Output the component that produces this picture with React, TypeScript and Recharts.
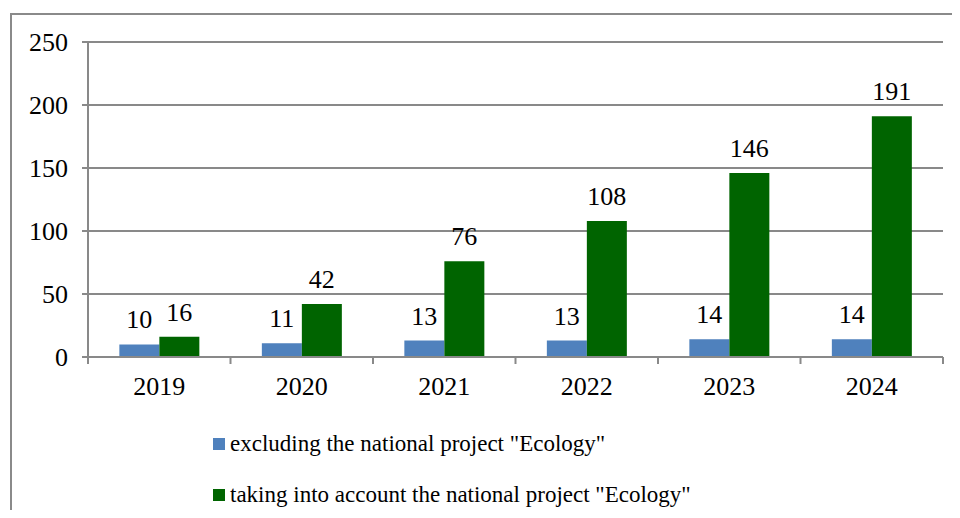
import { Bar, BarChart, CartesianGrid, LabelList, XAxis, YAxis } from "recharts";

const years = ["2019", "2020", "2021", "2022", "2023", "2024"];
const excluding = [10, 11, 13, 13, 14, 14];
const including = [16, 42, 76, 108, 146, 191];
const yTicks = [0, 50, 100, 150, 200, 250];
const seriesNames = [
  'excluding the national project "Ecology"',
  'taking into account the national project "Ecology"',
];

const BLUE = "#4F81BD";
const GREEN = "#006400";
const GRID = "#898989";
const FONT = "Liberation Serif, Times New Roman, serif";

const data = years.map((year, i) => ({
  year,
  excluding: excluding[i],
  including: including[i],
}));

function YearTick(props: any) {
  const { x, y, payload, index } = props;
  const half = payload?.offset ?? 71.25;
  return (
    <g>
      <line x1={x - half} x2={x - half} y1={y - 8} y2={y - 1} stroke={GRID} strokeWidth={2} />
      {index === years.length - 1 && (
        <line x1={x + half} x2={x + half} y1={y - 8} y2={y - 1} stroke={GRID} strokeWidth={2} />
      )}
      <text x={x} y={y + 30} textAnchor="middle" fontSize={26} fill="#000" style={{ fontFamily: FONT }}>
        {payload.value}
      </text>
    </g>
  );
}

const labelStyle = { fontSize: 26, fill: "#000", fontFamily: FONT };

export default function App() {
  return (
    <div
      style={{
        position: "relative",
        width: 960,
        height: 518,
        margin: -8,
        overflow: "hidden",
        background: "#fff",
        fontFamily: FONT,
      }}
    >
      <div
        style={{
          position: "absolute",
          left: 10,
          top: 13,
          width: 980,
          height: 540,
          border: "2px solid #8a8a8a",
        }}
      />
      <div style={{ position: "absolute", left: 0, top: 0 }}>
        <BarChart
          width={960}
          height={518}
          data={data}
          style={{ fontFamily: FONT }}
          margin={{ top: 42, right: 17, left: 10, bottom: 121 }}
          barCategoryGap="22%"
          barGap={0}
        >
          <CartesianGrid vertical={false} stroke={GRID} strokeWidth={2} />
          <XAxis
            dataKey="year"
            height={40}
            axisLine={{ stroke: GRID, strokeWidth: 2 }}
            tickLine={false}
            tick={<YearTick />}
            interval={0}
          />
          <YAxis
            width={78}
            domain={[0, 250]}
            ticks={yTicks}
            interval={0}
            axisLine={{ stroke: GRID, strokeWidth: 2 }}
            tickLine={{ stroke: GRID, strokeWidth: 2 }}
            tickSize={6}
            tickMargin={14}
            tick={labelStyle}
          />
          <Bar dataKey="excluding" fill={BLUE} isAnimationActive={false}>
            <LabelList dataKey="excluding" position="top" offset={16} style={labelStyle} />
          </Bar>
          <Bar dataKey="including" fill={GREEN} isAnimationActive={false}>
            <LabelList dataKey="including" position="top" offset={16} style={labelStyle} />
          </Bar>
        </BarChart>
      </div>
      <div style={{ position: "absolute", left: 213, top: 418, fontSize: 23, color: "#000" }}>
        {seriesNames.map((name, i) => (
          <div key={name} style={{ display: "flex", alignItems: "center", height: 51 }}>
            <span
              style={{
                display: "inline-block",
                width: 12,
                height: 12,
                background: i === 0 ? BLUE : GREEN,
                marginRight: 5,
              }}
            />
            <span style={{ lineHeight: "28px" }}>{name}</span>
          </div>
        ))}
      </div>
    </div>
  );
}
